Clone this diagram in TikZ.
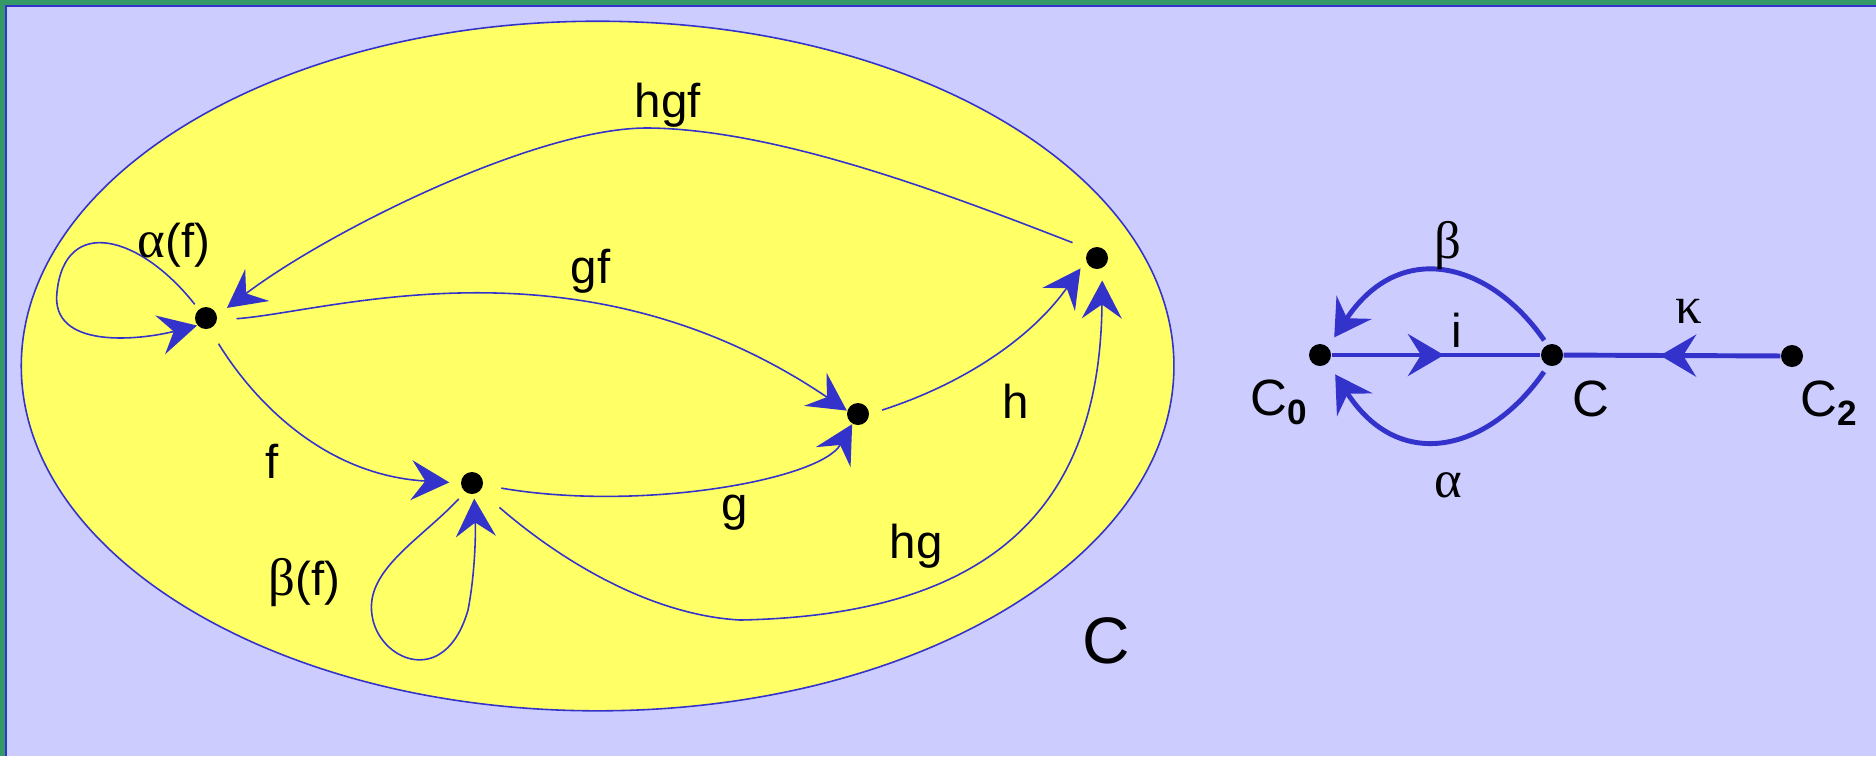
\documentclass[tikz,border=0pt]{standalone}
\usepackage{fontspec}
\setmainfont{Liberation Sans}
\newfontfamily\greekfont{Liberation Serif}
\usetikzlibrary{arrows.meta, decorations.markings}

\definecolor{lavendel}{RGB}{204,204,255}
\definecolor{gul}{RGB}{255,255,102}
\definecolor{linieblaa}{RGB}{51,51,204}
\definecolor{rammegroen}{RGB}{51,153,102}

\tikzset{
  objdot/.style={circle, fill=black, inner sep=0pt, minimum size=0.22cm},
  morf/.style={linieblaa, line width=0.45pt, -{Stealth[length=0.38cm, width=0.4cm, inset=0.14cm]}},
  tykmorf/.style={linieblaa, line width=1.4pt, -{Stealth[length=0.36cm, width=0.42cm, inset=0.13cm]}},
  midtpil/.style={linieblaa, line width=1.4pt, postaction={decorate},
    decoration={markings, mark=at position #1 with {\arrow{Stealth[length=0.36cm, width=0.42cm, inset=0.13cm]}}}},
  lbl/.style={font=\fontsize{13.5}{16}\selectfont, inner sep=0pt},
  storlbl/.style={font=\fontsize{14.5}{17}\selectfont, inner sep=0pt},
  grlbl/.style={font=\greekfont\fontsize{15}{18}\selectfont, inner sep=0pt}
}

\newcommand{\subfed}[1]{\raisebox{-2.8pt}{\fontsize{10}{12}\selectfont\bfseries #1}}

\begin{document}
\begin{tikzpicture}[x=0.01cm, y=-0.01cm]
  \useasboundingbox (0,0) rectangle (1876,756);
  % baggrund og ramme
  \fill[rammegroen] (0,0) rectangle (1876,756);
  \fill[lavendel] (5,5) rectangle (1876,756);
  \draw[linieblaa, line width=0.65pt] (6,756) -- (6,6) -- (1876,6);
  % kategorien C
  \draw[fill=gul, draw=linieblaa, line width=0.45pt] (597.6,366) ellipse [x radius=5.76cm, y radius=3.446cm];
  \node[lbl, font=\fontsize{18.7}{22}\selectfont, anchor=base west] (lstorc) at (1082,663) {C};

  % objekter
  \node[objdot] (xa) at (206,318) {};
  \node[objdot] (xb) at (472,483) {};
  \node[objdot] (xm) at (858,414) {};
  \node[objdot] (xd) at (1097,258) {};

  % morfier
  \draw[morf, shorten <=0.17cm, shorten >=0.11cm] (xa.-72) .. controls (250,395) and (320,475) .. (xb.180);
  \draw[morf, shorten <=0.18cm] (xb.-10) .. controls (640,512) and (820,480) .. (xm);
  \draw[morf, shorten <=0.19cm] (xa.-10) .. controls (330,312) and (580,230) .. (xm.163);
  \draw[morf, shorten <=0.13cm, shorten >=0.09cm] (xm.0) .. controls (960,385) and (1030,340) .. (xd.195);
  \draw[morf, shorten <=0.25cm, shorten >=0.12cm] (xb.-43) .. controls (560,560) and (650,615) .. (740,620)
    .. controls (1000,615) and (1100,500) .. (xd.-63);
  \draw[morf, shorten <=0.18cm, shorten >=0.12cm] (xd.131) .. controls (950,195) and (780,130) .. (650,128)
    .. controls (540,126) and (330,230) .. (xa.14);
  % loekker
  \draw[morf, shorten <=0.06cm] (xa.130) .. controls (140,235) and (65,215) .. (57,292)
    .. controls (50,350) and (140,340) .. (xa.-140);
  \draw[morf, shorten <=0.09cm, shorten >=0.04cm] (xb.-127) .. controls (420,540) and (365,570) .. (372,615)
    .. controls (378,660) and (445,690) .. (468,610) .. controls (474,580) and (476,540) .. (xb.-80);

  % navne
  \node[lbl, anchor=base west] (lhgf) at (634,117) {hgf};
  \node[lbl, anchor=base west] (lgf) at (570,283) {gf};
  \node[lbl, anchor=base west] (laf) at (137,257) {{\greekfont\fontsize{15}{18}\selectfont α}(f)};
  \node[lbl, anchor=base west] (lf) at (265,478) {f};
  \node[lbl, anchor=base west] (lbf) at (268,595) {{\greekfont\fontsize{15}{18}\selectfont β}(f)};
  \node[lbl, anchor=base west] (lg) at (721,520) {g};
  \node[lbl, anchor=base west] (lh) at (1002,418) {h};
  \node[lbl, anchor=base west] (lhg) at (889,558) {hg};

  % det lille diagram
  \node[objdot] (czero) at (1320,355) {};
  \node[objdot] (cmid) at (1552,355) {};
  \node[objdot] (ctwo) at (1792,356) {};
  \draw[midtpil=0.538] (czero) -- (cmid);
  \draw[midtpil=0.555] (ctwo) -- (cmid);
  \draw[tykmorf, shorten <=0.05cm, shorten >=0.11cm] (cmid.115) .. controls (1490,262) and (1400,238) .. (czero.46);
  \draw[tykmorf, shorten <=0.07cm, shorten >=0.13cm] (cmid.-110) .. controls (1490,450) and (1400,475) .. (czero.-46);

  \node[grlbl, anchor=base] (lbeta) at (1448,258) {β};
  \node[lbl, anchor=base] (li) at (1457,347) {i};
  \node[grlbl, anchor=base] (lkappa) at (1689,323) {κ};
  \node[grlbl, anchor=base] (lalpha) at (1448,497) {α};
  \node[storlbl, anchor=base west] (lczero) at (1250,415) {C\subfed{0}};
  \node[storlbl, anchor=base west] (lcmid) at (1572,416) {C};
  \node[storlbl, anchor=base west] (lctwo) at (1800,416) {C\subfed{2}};
\end{tikzpicture}
\end{document}
